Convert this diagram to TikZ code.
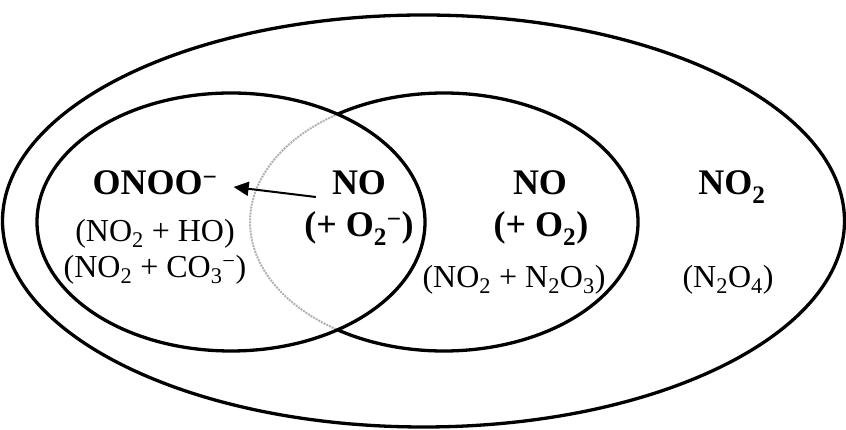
\documentclass[tikz,border=0pt]{standalone}
\usepackage{fontspec}
\setmainfont{Liberation Serif}
\usetikzlibrary{arrows.meta}

\begin{document}
\begin{tikzpicture}[
    x=1pt, y=1pt,
    ring/.style={draw, line width=3.3pt},
    hidden/.style={draw=gray!60, line width=2pt, densely dotted},
    species/.style={inner sep=0pt, anchor=base, font=\fontsize{36}{43}\selectfont\bfseries},
    product/.style={inner sep=0pt, anchor=base, font=\fontsize{32}{36}\selectfont},
    arrow/.style={-{Triangle[length=15pt, width=14pt]}, line width=2pt}
]
\useasboundingbox (0,0) rectangle (846,430);

% Centres of the three ellipses
\coordinate (outer) at (423.5,209);
\coordinate (lc) at (231,208);
\coordinate (rc) at (444,208);

% Outer ellipse
\draw[ring] (outer) ellipse [x radius=421pt, y radius=206pt];

% Right ellipse (part inside the left one in gray)
\draw[hidden] (rc) ++(123.1:194pt and 129pt)
    arc[start angle=123.1, end angle=236.9, x radius=194pt, y radius=129pt];
\draw[ring] (rc) ++(-123.1:194pt and 129pt)
    arc[start angle=-123.1, end angle=123.1, x radius=194pt, y radius=129pt];

% Left ellipse
\draw[ring] (lc) ellipse [x radius=194pt, y radius=129pt];

% Left region
\node[species] (onoo) at (155,235) {ONOO\textsuperscript{−}};
\node[product] (hoprod) at (155,188.5) {(NO\textsubscript{2} + HO)};
\node[product] (coprod) at (155,152.5) {(NO\textsubscript{2} + CO\textsubscript{3}\textsuperscript{−})};

% Overlap
\node[species] (nol) at (359,235) {NO};
\node[species] (superox) at (359,193) {(+ O\textsubscript{2}\textsuperscript{−})};

% Right ellipse
\node[species] (nom) at (540,235) {NO};
\node[species] (oxy) at (541,193) {(+ O\textsubscript{2})};
\node[product] (nnprod) at (514,142.5) {(NO\textsubscript{2} + N\textsubscript{2}O\textsubscript{3})};

% Outer ring
\node[species] (notwo) at (732,235) {NO\textsubscript{2}};
\node[product] (dimer) at (728,142.5) {(N\textsubscript{2}O\textsubscript{4})};

% Arrow
\draw[arrow] ([xshift=-16pt,yshift=-2pt]nol.base west) -- ([xshift=16pt,yshift=8pt]onoo.base east);

\end{tikzpicture}
\end{document}
